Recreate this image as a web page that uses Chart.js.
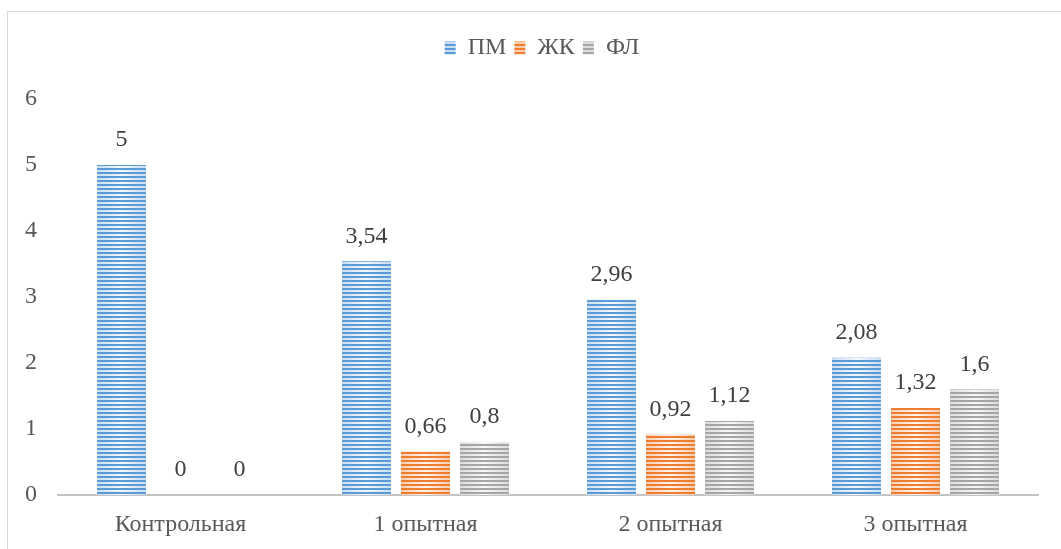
<!DOCTYPE html>
<html lang="ru">
<head>
<meta charset="utf-8">
<title>ПМ, ЖК, ФЛ по группам</title>
<script src="https://cdn.jsdelivr.net/npm/chart.js@4/dist/chart.umd.min.js"></script>
<style>
  html, body { margin: 0; padding: 0; background: #fff; overflow: hidden; font-family: "Liberation Serif", serif; }
  #frame { position: absolute; left: 7px; top: 11px; width: 1100px; height: 600px; border: 1px solid #d9d9d9; }
  #wrap { position: absolute; left: 0; top: 0; width: 1061px; height: 549px; }
</style>
</head>
<body>
<div id="frame"></div>
<div id="wrap"><canvas id="chart" width="1061" height="549"></canvas></div>
<script>
// groups along the x axis
const groups = ['Контрольная', '1 опытная', '2 опытная', '3 опытная'];

// series values per group
const pmValues = [5, 3.54, 2.96, 2.08];
const zkValues = [0, 0.66, 0.92, 1.32];
const flValues = [0, 0.8, 1.12, 1.6];

const seriesNames = ['ПМ', 'ЖК', 'ФЛ'];

// y axis ticks
const yTicks = [0, 1, 2, 3, 4, 5, 6];

const serif = "'Liberation Serif', 'Times New Roman', serif";

// horizontal stripe fill: two rows of colour, two rows of tint
function stripes(dark, light) {
  const c = document.createElement('canvas');
  c.width = 4;
  c.height = 4;
  const g = c.getContext('2d');
  g.fillStyle = light;
  g.fillRect(0, 0, 4, 4);
  g.fillStyle = dark;
  g.fillRect(0, 0, 4, 2);
  return g.createPattern(c, 'repeat');
}

const fills = [
  stripes('#5b9bd5', '#c9def2'),
  stripes('#ed7d31', '#f7cdb0'),
  stripes('#a5a5a5', '#dcdcdc')
];

// lighten the tint rows towards the middle of each bar
const sheen = {
  id: 'sheen',
  afterDatasetsDraw(chart) {
    const ctx = chart.ctx;
    ctx.save();
    chart.data.datasets.forEach((ds, i) => {
      chart.getDatasetMeta(i).data.forEach(bar => {
        const p = bar.getProps(['x', 'y', 'base', 'width'], true);
        if (p.base - p.y < 1) return;
        const left = p.x - p.width / 2;
        const grad = ctx.createLinearGradient(left, 0, left + p.width, 0);
        grad.addColorStop(0, 'rgba(255,255,255,0)');
        grad.addColorStop(0.5, 'rgba(255,255,255,0.8)');
        grad.addColorStop(1, 'rgba(255,255,255,0)');
        ctx.fillStyle = grad;
        for (let r = Math.floor(p.y / 4) * 4 + 2; r < p.base; r += 4) {
          const top = Math.max(r, p.y);
          const bottom = Math.min(r + 2, p.base);
          if (bottom > top) ctx.fillRect(left, top, p.width, bottom - top);
        }
      });
    });
    ctx.restore();
  }
};

// value above every bar, decimal comma
const valueLabels = {
  id: 'valueLabels',
  afterDatasetsDraw(chart) {
    const ctx = chart.ctx;
    ctx.save();
    ctx.font = '24px ' + serif;
    ctx.fillStyle = '#404040';
    ctx.textAlign = 'center';
    ctx.textBaseline = 'middle';
    chart.data.datasets.forEach((ds, i) => {
      chart.getDatasetMeta(i).data.forEach((bar, j) => {
        const text = String(ds.data[j]).replace('.', ',');
        ctx.fillText(text, bar.x, bar.y - 25);
      });
    });
    ctx.restore();
  }
};

// extra room under the legend row, and the row centred over the plot
const legendPlacement = {
  id: 'legendPlacement',
  beforeLayout(chart) {
    const lg = chart.legend;
    if (lg && !lg._gapAdded) {
      const fit = lg.fit;
      lg.fit = function () {
        fit.call(this);
        this.height += 29;
      };
      lg._gapAdded = true;
    }
  },
  afterLayout(chart) {
    const lg = chart.legend;
    if (lg) {
      lg.left += 19;
      lg.right += 19;
    }
  }
};

function draw() {
  new Chart(document.getElementById('chart'), {
    type: 'bar',
    data: {
      labels: groups,
      datasets: [pmValues, zkValues, flValues].map((vals, i) => ({
        label: seriesNames[i],
        data: vals,
        backgroundColor: fills[i],
        borderWidth: 0,
        categoryPercentage: 0.7225,
        barPercentage: 0.83
      }))
    },
    options: {
      responsive: false,
      animation: false,
      events: [],
      layout: { padding: { top: 28, left: 8, right: 23, bottom: 0 } },
      plugins: {
        tooltip: { enabled: false },
        legend: {
          position: 'top',
          labels: {
            font: { family: serif, size: 24 },
            color: '#595959',
            boxWidth: 11,
            boxHeight: 13,
            padding: 8
          }
        }
      },
      scales: {
        x: {
          grid: { display: false, drawTicks: false },
          border: { display: true, color: '#c3c3c3', width: 2 },
          ticks: { font: { family: serif, size: 24 }, color: '#595959', padding: 15 },
          afterFit(scale) { scale.height = 54; }
        },
        y: {
          min: 0,
          max: 6,
          afterBuildTicks(scale) { scale.ticks = yTicks.map(v => ({ value: v })); },
          grid: { display: false, drawTicks: false },
          border: { display: false },
          ticks: { font: { family: serif, size: 24 }, color: '#595959', padding: 21 },
          afterFit(scale) { scale.width = 50; }
        }
      }
    },
    plugins: [sheen, valueLabels, legendPlacement]
  });
}

Promise.all([
  document.fonts.load("24px 'Liberation Serif'", 'Контрольная 0123456789 ПМЖКФЛ')
]).then(draw, draw);
</script>
</body>
</html>
